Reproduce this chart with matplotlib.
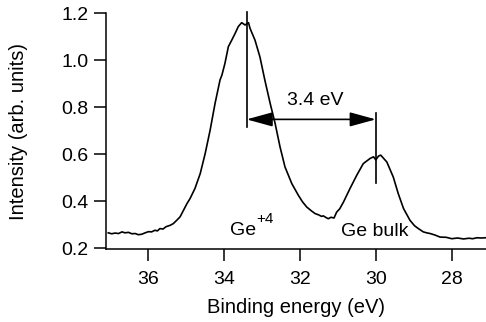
import matplotlib
matplotlib.use("Agg")
import matplotlib.pyplot as plt

plt.rcParams['font.family'] = ['Liberation Sans', 'DejaVu Sans']

# Ge 3d spectrum (binding energy, intensity)
energy = [37.04, 36.95, 36.86, 36.77, 36.68, 36.6, 36.51, 36.42, 36.33, 36.25, 36.16,
          36.07, 35.98, 35.9, 35.81, 35.75, 35.68, 35.6, 35.52, 35.41, 35.33, 35.24,
          35.15, 35.06, 34.97, 34.89, 34.76, 34.62, 34.49, 34.36, 34.23, 34.1, 34.05,
          33.97, 33.88, 33.79, 33.7, 33.62, 33.53, 33.44, 33.35, 33.31, 33.18, 33.05,
          32.92, 32.78, 32.65, 32.52, 32.39, 32.21, 32.04, 31.93, 31.82, 31.7, 31.6,
          31.5, 31.43, 31.38, 31.3, 31.25, 31.18, 31.1, 31.03, 30.95, 30.85, 30.68,
          30.5, 30.33, 30.15, 30.06, 30.0, 29.93, 29.87, 29.71, 29.54, 29.41, 29.27,
          29.1, 28.98, 28.88, 28.75, 28.66, 28.57, 28.45, 28.31, 28.15, 28.0, 27.85,
          27.69, 27.55, 27.45, 27.34, 27.22, 27.12]
intensity = [0.266, 0.262, 0.265, 0.263, 0.27, 0.266, 0.268, 0.262, 0.263, 0.258, 0.26,
             0.266, 0.271, 0.27, 0.277, 0.274, 0.284, 0.282, 0.292, 0.298, 0.305, 0.319,
             0.334, 0.362, 0.39, 0.411, 0.454, 0.518, 0.603, 0.702, 0.816, 0.915, 0.936,
             0.986, 1.057, 1.085, 1.114, 1.142, 1.159, 1.149, 1.159, 1.135, 1.085, 1.014,
             0.915, 0.816, 0.731, 0.631, 0.546, 0.475, 0.426, 0.398, 0.376, 0.36, 0.348,
             0.342, 0.336, 0.338, 0.33, 0.326, 0.332, 0.329, 0.354, 0.368, 0.397, 0.454,
             0.511, 0.56, 0.582, 0.589, 0.576, 0.592, 0.596, 0.567, 0.503, 0.433, 0.369,
             0.319, 0.296, 0.284, 0.27, 0.266, 0.263, 0.257, 0.248, 0.247, 0.241, 0.244,
             0.24, 0.243, 0.241, 0.245, 0.244, 0.245]

peak_ox = 33.4
peak_bulk = 30.0
x_ticks = [36, 34, 32, 30, 28]
y_ticks = [0.2, 0.4, 0.6, 0.8, 1.0, 1.2]

fig = plt.figure(figsize=(4.86, 3.22), dpi=100)
ax = fig.add_axes([106 / 486, (322 - 249.3) / 322, 380 / 486, 236.3 / 322])

ax.plot(energy, intensity, color='black', lw=1.2)

ax.set_xlim(37.1, 27.1)
ax.set_ylim(0.196, 1.2)
ax.set_xticks(x_ticks)
ax.set_yticks(y_ticks)
ax.set_yticklabels(['%.1f' % v for v in y_ticks])

for s in ['top', 'right']:
    ax.spines[s].set_visible(False)
for s in ['left', 'bottom']:
    ax.spines[s].set_linewidth(1.1)
ax.tick_params(direction='out', length=8.5, width=1.1, labelsize=14, pad=4)
ax.tick_params(axis='x', pad=7)

ax.set_xlabel('Binding energy (eV)', fontsize=14.5)
ax.set_ylabel('Intensity (arb. units)', fontsize=14.5)
ax.xaxis.set_label_coords(0.5, -0.205)
ax.yaxis.set_label_coords(-0.205, 0.5)

# peak markers and separation arrow
ax.plot([peak_ox, peak_ox], [0.715, 1.205], color='black', lw=1.2, clip_on=False)
ax.plot([peak_bulk, peak_bulk], [0.477, 0.774], color='black', lw=1.2)
ax.annotate('', xy=(peak_bulk, 0.748), xytext=(peak_ox, 0.748),
            arrowprops=dict(arrowstyle='<|-|>,head_length=0.8,head_width=0.22',
                            mutation_scale=20, color='black', lw=1.2,
                            shrinkA=0, shrinkB=0))
ax.text(31.6, 0.808, '3.4 eV', fontsize=14, ha='center', va='baseline')
ax.text(30.02, 0.251, 'Ge bulk', fontsize=14, ha='center', va='baseline')
ax.text(33.83, 0.255, 'Ge', fontsize=14, ha='left', va='baseline')
ax.text(33.15, 0.306, '+4', fontsize=11, ha='left', va='baseline')

fig.savefig('out.png', dpi=100)
